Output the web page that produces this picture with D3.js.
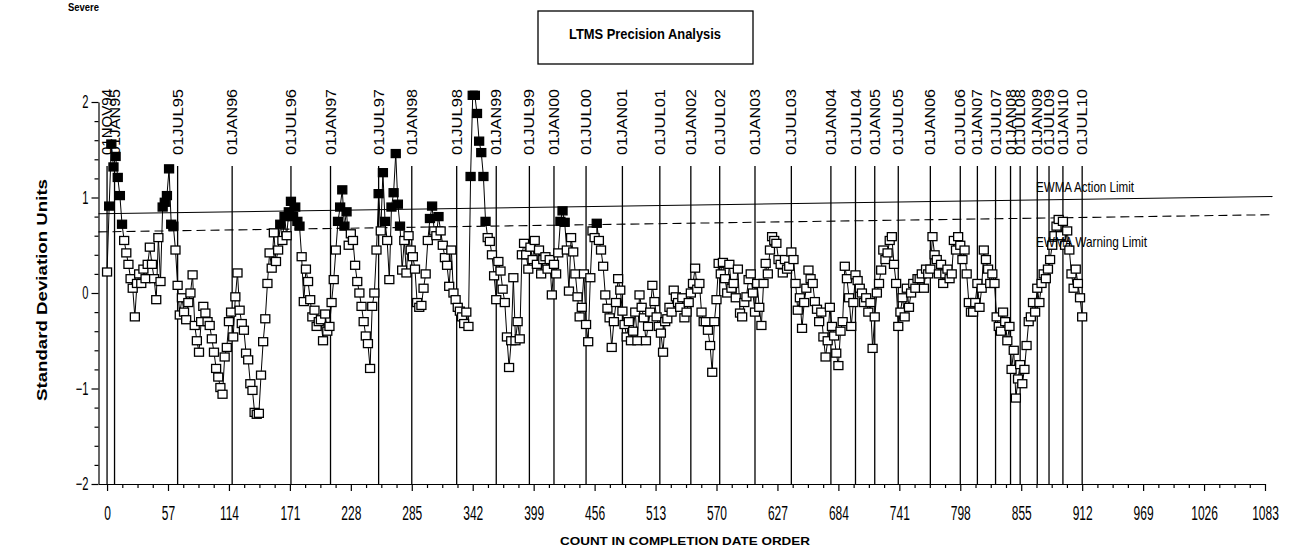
<!DOCTYPE html>
<html><head><meta charset="utf-8">
<script src="https://cdn.jsdelivr.net/npm/d3@7"></script>
<style>
body{margin:0;background:#fff}
svg{display:block}
text{font-family:"Liberation Sans",Arial,sans-serif;fill:#000}
</style>
</head><body><svg id="c" width="1289" height="550"></svg>
<script>
// EWMA values in completion-date order (one value every 2 counts)
const ewmaValues = [
 0.22,0.91,1.56,1.32,1.43, 1.21,1.02,0.72,0.55,0.42, 0.3,0.15,0.05,-0.25,0.1, 0.2,0.1,0.25,0.15,0.3,
 0.48,0.3,0.15,-0.07,0.58, 0.12,0.9,0.95,1.02,1.3, 0.72,0.7,0.45,0.08,-0.23, -0.05,-0.2,-0.28,-0.1,0.0,
 0.19,-0.34,-0.5,-0.62,-0.3, -0.14,-0.21,-0.3,-0.34,-0.48, -0.62,-0.79,-0.88,-0.99,-1.06, -0.67,-0.57,-0.3,-0.2,-0.46,
 -0.04,0.21,-0.18,-0.32,-0.39, -0.63,-0.7,-0.95,-1.02,-1.25, -1.27,-1.26,-0.86,-0.51,-0.27, 0.1,0.42,0.26,0.63,0.33,
 0.45,0.72,0.55,0.8,0.6, 0.85,0.96,0.8,0.9,0.75, 0.7,0.38,-0.09,0.25,0.12, -0.07,-0.25,-0.18,-0.35,-0.3,
 -0.28,-0.5,-0.22,-0.4,-0.35, -0.1,0.14,0.45,0.75,0.9, 1.08,0.7,0.85,0.5,0.62, 0.55,0.29,0.12,0.0,-0.14,
 -0.3,-0.45,-0.53,-0.79,-0.14, 0.0,0.45,1.04,0.65,1.26, 0.75,0.55,0.14,0.9,1.05, 1.46,0.93,0.7,0.24,0.55,
 0.21,0.6,0.45,0.38,0.25, -0.1,-0.15,-0.13,0.05,0.2, 0.55,0.78,0.91,0.65,0.6, 0.8,0.65,0.5,0.37,0.29,
 0.07,0.45,0.0,-0.07,-0.15, -0.19,-0.25,-0.32,-0.2,-0.35, 1.22,2.07,2.07,1.88,1.59, 1.47,1.22,0.75,0.58,0.54,
 0.4,0.18,-0.07,0.33,0.23, 0.04,-0.1,-0.46,-0.78,-0.5, 0.16,-0.5,-0.3,-0.48,0.4, 0.52,0.4,0.25,0.48,0.35,
 0.55,0.3,0.45,0.2,0.35, 0.38,0.25,0.35,-0.02,0.3, 0.2,0.42,0.75,0.86,0.74, 0.45,0.02,0.58,0.43,0.2,
 -0.04,-0.25,-0.15,0.2,-0.33, -0.51,0.16,0.65,0.58,0.73, 0.55,0.45,0.28,-0.02,-0.16, -0.26,-0.57,-0.3,-0.1,0.15,
 0.03,-0.19,-0.33,-0.46,-0.3, -0.5,-0.4,-0.2,-0.5,-0.02, -0.15,-0.26,-0.5,-0.35,-0.2, 0.08,-0.09,-0.25,-0.35,-0.42,
 -0.62,-0.3,-0.27,-0.15,-0.2, 0.03,-0.04,-0.1,-0.15,-0.05, -0.26,-0.2,-0.1,0.0,0.1, 0.26,0.04,0.1,-0.2,-0.3,
 -0.3,-0.39,-0.55,-0.83,-0.3, -0.07,0.31,0.2,0.32,0.15, 0.0,0.3,0.05,0.1,-0.05, 0.25,-0.21,-0.25,-0.1,-0.04,
 0.14,0.2,0.0,-0.2,0.1, -0.15,-0.34,0.1,0.31,0.2, 0.45,0.59,0.55,0.52,0.35, 0.3,0.21,0.35,0.25,0.28,
 0.43,0.35,0.1,-0.18,-0.05, -0.37,-0.1,0.05,0.24,0.15, 0.1,-0.09,-0.17,-0.3,-0.2, -0.46,-0.67,-0.5,-0.15,-0.35,
 -0.45,-0.63,-0.76,-0.4,-0.3, 0.28,0.15,-0.05,-0.35,-0.1, 0.19,0.13,0.05,0.0,-0.1, -0.05,-0.2,-0.1,-0.58,-0.25,
 0.0,0.1,0.24,0.45,0.35, 0.42,0.55,0.59,0.3,0.1, -0.35,-0.2,-0.05,-0.25,0.05, -0.15,0.0,0.1,0.05,0.15,
 0.15,0.2,0.05,0.25,0.2, 0.25,0.59,0.4,0.35,0.2, 0.3,0.1,0.2,0.25,0.15, 0.2,0.55,0.45,0.59,0.5,
 0.35,0.45,0.2,-0.1,-0.2, -0.2,-0.1,0.1,-0.15,0.05, 0.45,0.35,0.25,0.1,0.2, 0.1,-0.25,-0.35,-0.4,-0.2,
 -0.3,-0.5,-0.35,-0.8,-0.6, -1.1,-0.9,-0.75,-0.95,-0.8, -0.55,-0.3,-0.25,-0.1,-0.2, 0.05,-0.1,0.1,0.2,0.15,
 0.25,0.35,0.5,0.6,0.7, 0.77,0.6,0.75,0.5,0.65, 0.45,0.2,0.05,0.25,0.1, -0.05,-0.25
];
const countStep = 2;

// Reference date lines
const dateLabels = ["01NOV94","01JAN95","01JUL95","01JAN96","01JUL96","01JAN97","01JUL97","01JAN98","01JUL98",
 "01JAN99","01JUL99","01JAN00","01JUL00","01JAN01","01JUL01","01JAN02","01JUL02","01JAN03","01JUL03",
 "01JAN04","01JUL04","01JAN05","01JUL05","01JAN06","01JUL06","01JAN07","01JUL07","01JAN08","01JUL08",
 "01JAN09","01JUL09","01JAN10","01JUL10"];
const dateCounts = [0,7,66,117,172,209,254,285,327,364,395,418,448,482,517,546,573,606,640,
 677,700,718,740,770,798,814,831,845,854,870,881,894,912];

// Axis ticks
const xTicks = [0,57,114,171,228,285,342,399,456,513,570,627,684,741,798,855,912,969,1026,1083];
const yTicks = [-2,-1,0,1,2];

// EWMA limits (as drawn, start and end of the line)
const limitCounts = [-8, 1090];
const actionLimit = [0.83, 1.01];
const warningLimit = [0.64, 0.82];

const svg = d3.select("#c");
svg.append("rect").attr("width",1289).attr("height",550).attr("fill","#fff");

const x = d3.scaleLinear().domain([-8,1083]).range([98.5,1265]);
const y = d3.scaleLinear().domain([-2,2]).range([484,102]);

const data = ewmaValues.map((v,i)=>({c:i*countStep, v}));
const warnAt = d3.scaleLinear().domain(limitCounts).range(warningLimit);

// Header texts
svg.append("text").attr("x",68).attr("y",11).attr("font-size",10).attr("font-weight","bold")
  .attr("textLength",31).attr("lengthAdjust","spacingAndGlyphs").text("Severe");
svg.append("rect").attr("x",538).attr("y",11).attr("width",215).attr("height",53)
  .attr("fill","none").attr("stroke","#000").attr("stroke-width",1.3);
svg.append("text").attr("x",645).attr("y",39).attr("text-anchor","middle").attr("font-size",15)
  .attr("font-weight","bold").attr("textLength",152).attr("lengthAdjust","spacingAndGlyphs")
  .text("LTMS Precision Analysis");

// Y axis
const yAxis = svg.append("g").attr("transform",`translate(${x(-8)},0)`)
  .call(d3.axisLeft(y).tickValues(yTicks).tickSize(7).tickSizeOuter(0).tickFormat(d3.format("d")));
yAxis.selectAll("text").attr("x",0).attr("font-size",18).attr("font-family","Liberation Sans, Arial, sans-serif")
  .attr("transform","translate(-10,0) scale(0.62,1)");
const yMinor = d3.range(-1.8,1.81,0.2).filter(v=>Math.abs(v-Math.round(v))>0.01);
svg.append("g").attr("transform",`translate(${x(-8)},0)`)
  .call(d3.axisLeft(y).tickValues(yMinor).tickSize(4).tickSizeOuter(0).tickFormat(""))
  .select(".domain").remove();

// X axis
const xAxis = svg.append("g").attr("transform",`translate(0,${y(-2)})`)
  .call(d3.axisBottom(x).tickValues(xTicks).tickSize(7).tickSizeOuter(0).tickPadding(15).tickFormat(d3.format("d")));
xAxis.selectAll("text").attr("font-size",20).attr("font-family","Liberation Sans, Arial, sans-serif")
  .attr("transform","scale(0.6,1)");
const xMinor = d3.range(0,1083,14.25).filter(v=>Math.abs(v/57-Math.round(v/57))>0.01);
svg.append("g").attr("transform",`translate(0,${y(-2)})`)
  .call(d3.axisBottom(x).tickValues(xMinor).tickSize(4).tickSizeOuter(0).tickFormat(""))
  .select(".domain").remove();
svg.selectAll(".domain,.tick line").attr("stroke","#000").attr("stroke-width",1.2);

// Axis titles
svg.append("text").attr("transform","translate(47,290) rotate(-90)").attr("text-anchor","middle")
  .attr("font-size",15).attr("font-weight","bold").attr("textLength",222)
  .attr("lengthAdjust","spacingAndGlyphs").text("Standard Deviation Units");
svg.append("text").attr("x",685).attr("y",545).attr("text-anchor","middle").attr("font-size",10)
  .attr("font-weight","bold").attr("textLength",250).attr("lengthAdjust","spacingAndGlyphs")
  .text("COUNT IN COMPLETION DATE ORDER");

// Date reference lines
const dl = svg.append("g");
dl.selectAll("line").data(dateCounts).join("line")
  .attr("x1",d=>x(d)).attr("x2",d=>x(d)).attr("y1",166).attr("y2",y(-2))
  .attr("stroke","#000").attr("stroke-width",1.3);
dl.selectAll("text").data(dateLabels).join("text")
  .attr("transform",(d,i)=>`translate(${x(dateCounts[i])},155) rotate(-90)`)
  .attr("dy","0.36em").attr("font-size",14).attr("textLength",66)
  .attr("lengthAdjust","spacingAndGlyphs").text(d=>d);

// Limit lines
const limLine = d3.line().x(d=>x(d[0])).y(d=>y(d[1]));
svg.append("path").attr("d",limLine(limitCounts.map((c,i)=>[c,actionLimit[i]])))
  .attr("fill","none").attr("stroke","#000").attr("stroke-width",1.1);
svg.append("path").attr("d",limLine(limitCounts.map((c,i)=>[c,warningLimit[i]])))
  .attr("fill","none").attr("stroke","#000").attr("stroke-width",1.1).attr("stroke-dasharray","9,5");

// Data line and markers
svg.append("path").datum(data)
  .attr("d",d3.line().x(d=>x(d.c)).y(d=>y(d.v)))
  .attr("fill","none").attr("stroke","#000").attr("stroke-width",1);
svg.append("g").selectAll("rect").data(data).join("rect")
  .attr("x",d=>x(d.c)-4.5).attr("y",d=>y(d.v)-4).attr("width",9).attr("height",8)
  .attr("fill",d=>d.v>warnAt(d.c)?"#000":"#fff")
  .attr("stroke","#000").attr("stroke-width",1.3);

// Limit labels
svg.append("text").attr("x",1036).attr("y",192).attr("font-size",15)
  .attr("textLength",98).attr("lengthAdjust","spacingAndGlyphs").text("EWMA Action Limit");
svg.append("text").attr("x",1036).attr("y",247).attr("font-size",15)
  .attr("textLength",111).attr("lengthAdjust","spacingAndGlyphs").text("EWMA Warning Limit");
</script>
</body></html>
